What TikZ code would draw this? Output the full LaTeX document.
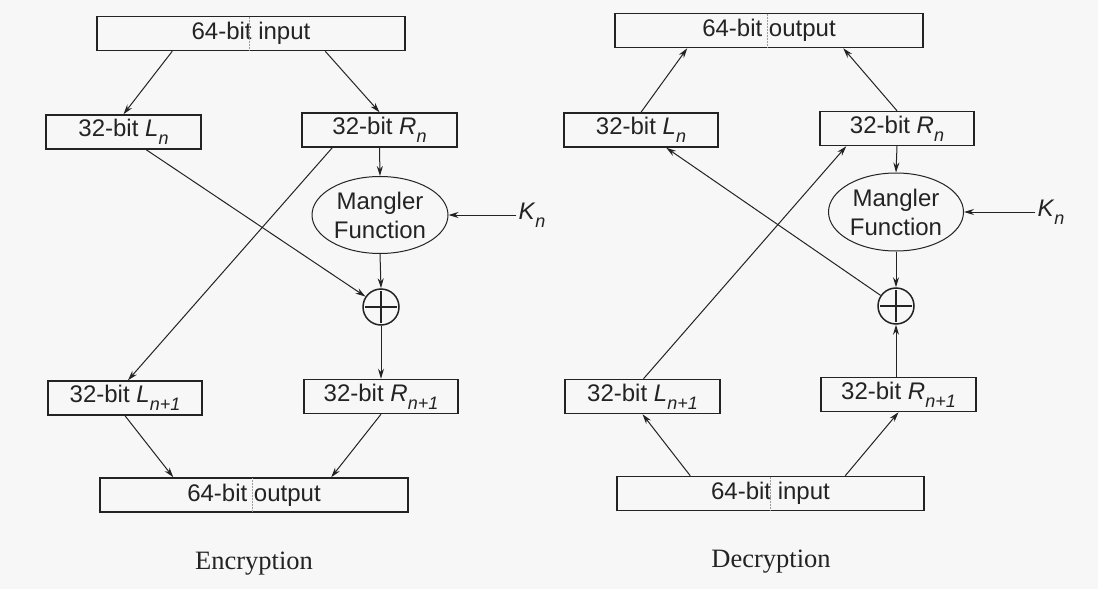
\documentclass[tikz,border=0pt]{standalone}
\usepackage{fontspec}
\setmainfont{Liberation Sans}
\newfontfamily\capfont{Liberation Serif}
\usetikzlibrary{shapes.geometric,arrows.meta,calc}
\newcommand\lsub[1]{\raisebox{-0.32em}{\fontsize{18}{18}\selectfont\itshape #1}}
\definecolor{ink}{RGB}{35,35,35}
\definecolor{paper}{RGB}{247,247,247}
\tikzset{
  box/.style={draw=ink, line width=1.5pt, rectangle, minimum height=34pt, inner sep=0pt, text=ink, font=\fontsize{24}{28}\selectfont},
  wide/.style={box, minimum width=308pt},
  half/.style={box, minimum width=155pt},
  mang/.style={draw=ink, line width=1pt, ellipse, minimum width=136pt, minimum height=77pt, inner sep=0pt, text=ink, align=center, font=\fontsize{24}{29}\selectfont},
  xorn/.style={draw=ink, line width=1.5pt, circle, minimum size=36pt, inner sep=0pt,
    path picture={\draw[ink, line width=1.5pt] ([yshift=-2pt]path picture bounding box.north) -- ([yshift=2pt]path picture bounding box.south);
                  \draw[ink, line width=1.5pt] ([xshift=2pt]path picture bounding box.west) -- ([xshift=-2pt]path picture bounding box.east);}},
  keyl/.style={text=ink, font=\fontsize{24}{28}\selectfont, inner sep=2pt},
  captxt/.style={text=ink, font=\capfont\fontsize{26.5}{30}\selectfont},
  arr/.style={draw=ink, line width=1pt, -{Stealth[length=10pt,width=6pt]}},
  divl/.style={draw=ink!45, line width=0.5pt, densely dotted}
}
\begin{document}
\begin{tikzpicture}[x=1pt,y=-1pt]
\fill[paper] (0,0) rectangle (1098,589);
\useasboundingbox (0,0) rectangle (1098,589);

% ---------------- Encryption ----------------
\node[wide] (ein) at (251,33.5) {64-bit input};
\node[half] (eLn) at (123.5,132) {32-bit \textit{L}\lsub{n}};
\node[half] (eRn) at (379.5,130) {32-bit \textit{R}\lsub{n}};
\node[mang] (emang) at (380,215) {Mangler\\Function};
\node[keyl] (eK) at (532,215) {\textit{K}\lsub{n}};
\node[xorn] (exor) at (381,307) {};
\node[half, minimum width=154pt] (eL1) at (125,398) {32-bit \textit{L}\lsub{n+1}};
\node[half, minimum width=154pt] (eR1) at (381,396.5) {32-bit \textit{R}\lsub{n+1}};
\node[wide] (eout) at (254,495) {64-bit output};
\node[captxt] (ecap) at (254,564) {Encryption};

\draw[divl] ($(ein.north west)+(153,1)$) -- ($(ein.south west)+(153,-1)$);
\draw[divl] ($(eout.north west)+(153,1)$) -- ($(eout.south west)+(153,-1)$);

\draw[arr] ($(ein.south west)+(76,0)$) -- (eLn.north);
\draw[arr] ($(ein.south west)+(229,0)$) -- (eRn.north);
\draw[arr] ($(eLn.south west)+(101,0)$) -- (exor);
\draw[arr] ($(eRn.south west)+(31,0)$) -- ($(eL1.north)+(3,0)$);
\draw[arr] (eRn.south) -- (emang.north);
\draw[arr] (eK.west) -- (emang.east);
\draw[arr] (emang.south) -- (exor.north);
\draw[arr] (exor.south) -- (eR1.north);
\draw[arr] (eL1.south) -- ($(eout.north west)+(74,0)$);
\draw[arr] (eR1.south) -- ($(eout.north west)+(232,0)$);

% ---------------- Decryption ----------------
\node[wide] (dout) at (769,30.5) {64-bit output};
\node[half, minimum width=154pt] (dLn) at (641,130) {32-bit \textit{L}\lsub{n}};
\node[half, minimum width=154pt] (dRn) at (897,128.5) {32-bit \textit{R}\lsub{n}};
\node[mang, minimum width=135pt, minimum height=78pt] (dmang) at (896,212) {Mangler\\Function};
\node[keyl] (dK) at (1051,212) {\textit{K}\lsub{n}};
\node[xorn] (dxor) at (896,306) {};
\node[half] (dL1) at (642.5,396.5) {32-bit \textit{L}\lsub{n+1}};
\node[half] (dR1) at (898.5,394.5) {32-bit \textit{R}\lsub{n+1}};
\node[wide, minimum width=307pt] (din) at (770.5,493.5) {64-bit input};
\node[captxt] (dcap) at (771,562) {Decryption};

\draw[divl] ($(dout.north west)+(153,1)$) -- ($(dout.south west)+(153,-1)$);
\draw[divl] ($(din.north west)+(154,1)$) -- ($(din.south west)+(154,-1)$);

\draw[arr] (dLn.north) -- ($(dout.south west)+(73,0)$);
\draw[arr] (dRn.north) -- ($(dout.south west)+(229,0)$);
\draw[arr] (dRn.south) -- (dmang.north);
\draw[arr] (dK.west) -- (dmang.east);
\draw[arr] (dmang.south) -- (dxor.north);
\draw[arr] (dxor) -- ($(dLn.south west)+(103,0)$);
\draw[arr] (dR1.north -| dxor.south) -- (dxor.south);
\draw[arr] ($(dL1.north)+(1,0)$) -- ($(dRn.south west)+(27,0)$);
\draw[arr] ($(din.north west)+(74,0)$) -- (dL1.south);
\draw[arr] ($(din.north west)+(229,0)$) -- (dR1.south);
\end{tikzpicture}
\end{document}
